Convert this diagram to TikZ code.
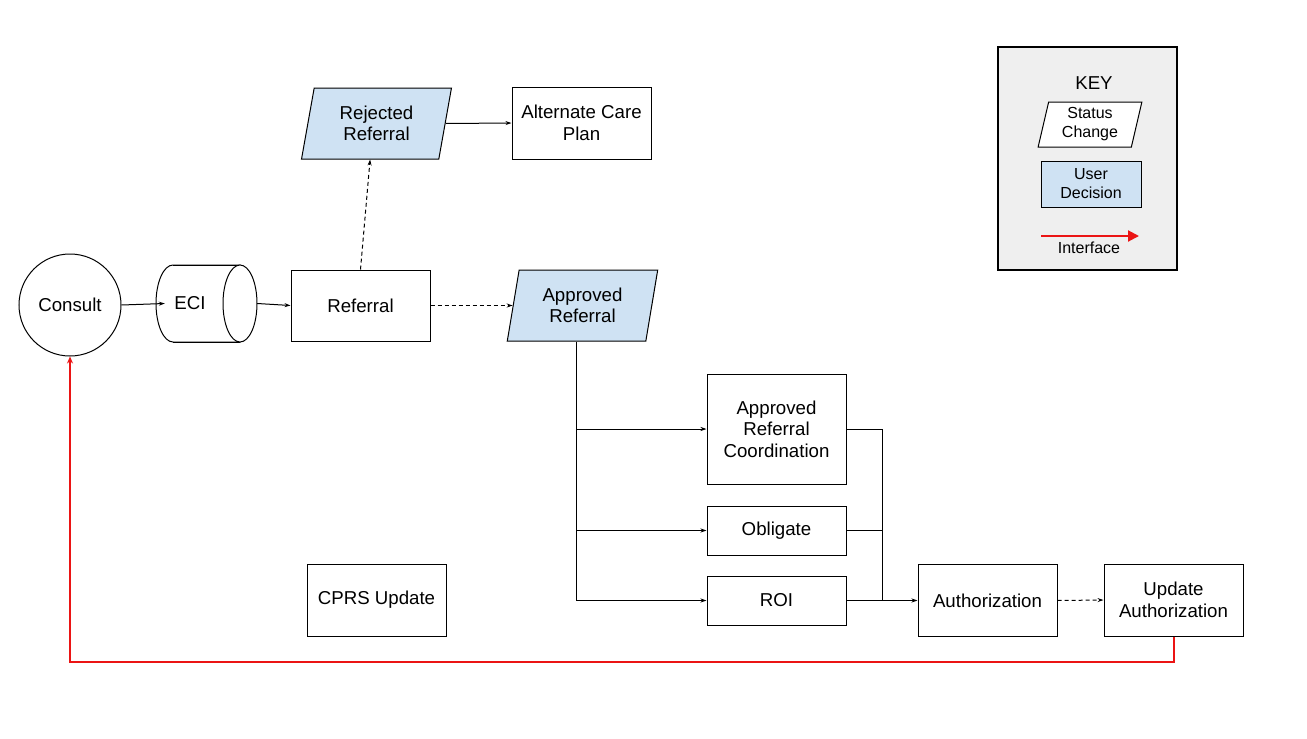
\documentclass[tikz,border=0pt]{standalone}
\usepackage{fontspec}
\setmainfont{Liberation Sans}
\usetikzlibrary{shapes.geometric,arrows.meta}
\definecolor{ublue}{HTML}{CFE2F3}
\definecolor{keygray}{HTML}{EFEFEF}
\definecolor{ired}{RGB}{235,20,20}
\tikzset{
  big/.style={font=\fontsize{18.67}{21.5}\selectfont},
  small/.style={font=\fontsize{16}{19}\selectfont},
  box/.style={draw, line width=1pt, minimum width=139, align=center, inner sep=0, big},
  para/.style={trapezium, trapezium left angle=78, trapezium right angle=102, trapezium stretches=true, draw, line width=1pt, align=center, inner sep=0, big},
  arr/.style={line width=1pt, -{Stealth[length=6pt,width=4pt]}},
  darr/.style={arr, dash pattern=on 4pt off 3pt},
  redarr/.style={draw=ired, line width=2pt, -{Stealth[length=7pt,width=6pt]}},
  shp/.style={line width=1pt},
}
\begin{document}
\begin{tikzpicture}[x=1pt,y=-1pt]
\useasboundingbox[fill=white] (0,0) rectangle (1307,739);
% nodes
\node[circle, draw, line width=1pt, minimum size=102, inner sep=0, big] (con) at (70,305) {Consult};
% ECI cylinder (drawn directly, named frame node)
\node[minimum width=101, minimum height=77, inner sep=0] (eci) at (206.5,303.5) {};
\draw[shp, fill=white] (173,265) -- (240,265) -- (240,342) -- (173,342)
  arc[start angle=90, end angle=270, x radius=17, y radius=38.5] -- cycle;
\draw[shp] (173,265) -- (240,265);
\draw[shp] (173,342) -- (240,342);
\draw[shp, fill=white] (240,303.5) ellipse [x radius=17, y radius=38.5];
\node[big] (ecitxt) at (190,303.5) {ECI};
\node[box, minimum height=71] (ref) at (360.5,305.5) {Referral};
\node[para, fill=ublue, minimum width=151, minimum height=71] (rej) at (376.5,123.5) {Rejected\\Referral};
\node[box, minimum height=72] (alt) at (581.5,123) {Alternate Care\\Plan};
\node[para, fill=ublue, minimum width=151, minimum height=71] (app) at (582.5,305.5) {Approved\\Referral};
\node[box, minimum height=110] (arc) at (776.5,429) {Approved\\Referral\\Coordination};
\node[box, minimum height=49] (obl) at (776.5,530.5) {Obligate};
\node[box, minimum height=49] (roi) at (776.5,600.5) {ROI};
\node[box, minimum height=72] (auth) at (987.5,600.5) {Authorization};
\node[box, minimum height=72] (ua) at (1173.5,600) {Update\\Authorization};
\node[box, minimum height=72] (cprs) at (376.5,600) {CPRS Update};
\coordinate (m) at (882,600.5);
\coordinate (redb) at (0,662);
% key
\node[draw, line width=2pt, fill=keygray, minimum width=179, minimum height=223, inner sep=0] (key) at (1087.5,158.5) {};
\node[big] (keyt) at (1094,83) {KEY};
\node[para, fill=white, small, minimum width=104, minimum height=45] (ksc) at (1090,124.5) {Status\\Change};
\node[draw, line width=1pt, fill=ublue, minimum width=100, minimum height=46, inner sep=0, align=center, small] (kud) at (1091,184) {User\\Decision};
\coordinate (ka) at (1041,236);
\coordinate (kb) at (1139,236);
\draw[draw=ired, line width=2pt, -{Triangle[length=11pt,width=11pt]}] (ka) -- (kb);
\node[small] (kif) at (1089,248) {Interface};
% connectors
\draw[arr] (con.east) -- ([xshift=9]eci.west);
\draw[arr] (eci.east) -- (ref.west);
\draw[darr] (ref.north) -- (rej.bottom side);
\draw[darr] (ref.east) -- (app.left side);
\draw[arr] (rej.right side) -- (alt.west);
\draw[line width=1pt] (app.bottom side) -- (app.bottom side |- roi.west);
\draw[arr] (app.bottom side |- arc.west) -- (arc.west);
\draw[arr] (app.bottom side |- obl.west) -- (obl.west);
\draw[arr] (app.bottom side |- roi.west) -- (roi.west);
\draw[line width=1pt] (arc.east) -| (m);
\draw[line width=1pt] (obl.east) -| (m);
\draw[arr] (roi.east) -- (auth.west);
\draw[darr] (auth.east) -- (ua.west);
\draw[redarr] (ua.south) -- (ua.south |- redb) -| (con.south);
\end{tikzpicture}
\end{document}
